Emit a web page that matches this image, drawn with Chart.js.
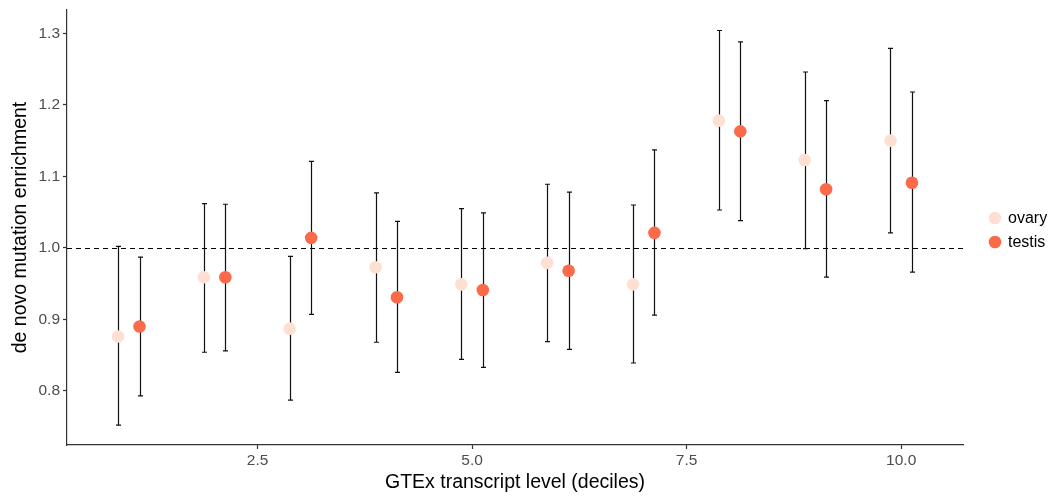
<!DOCTYPE html>
<html>
<head>
<meta charset="utf-8">
<script src="https://cdn.jsdelivr.net/npm/chart.js@4/dist/chart.umd.min.js"></script>
<style>
  html, body { margin: 0; padding: 0; background: #fff; }
  #wrap { width: 1049px; height: 496px; position: relative; }
</style>
</head>
<body>
<div id="wrap"><canvas id="c"></canvas></div>
<script>
// Expression deciles
const deciles = [1, 2, 3, 4, 5, 6, 7, 8, 9, 10];

// Ovary: enrichment estimate with lower / upper confidence limits
const ovaryValue = [0.876, 0.959, 0.887, 0.973, 0.949, 0.979, 0.949, 1.178, 1.123, 1.150];
const ovaryLower = [0.752, 0.854, 0.787, 0.868, 0.844, 0.869, 0.839, 1.053, 0.999, 1.021];
const ovaryUpper = [1.002, 1.062, 0.988, 1.077, 1.055, 1.089, 1.060, 1.304, 1.246, 1.279];

// Testis: enrichment estimate with lower / upper confidence limits
const testisValue = [0.890, 0.959, 1.014, 0.931, 0.941, 0.968, 1.021, 1.163, 1.082, 1.091];
const testisLower = [0.793, 0.856, 0.907, 0.826, 0.833, 0.858, 0.906, 1.038, 0.959, 0.966];
const testisUpper = [0.987, 1.061, 1.121, 1.037, 1.049, 1.078, 1.137, 1.288, 1.206, 1.218];

const xTicks = [2.5, 5.0, 7.5, 10.0];
const yTicks = [0.8, 0.9, 1.0, 1.1, 1.2, 1.3];
const seriesNames = ['ovary', 'testis'];
const seriesColors = ['#FEE0D2', '#FB6A4A'];

const DODGE = 0.125;
const FONT = '"Liberation Sans", Arial, Helvetica, sans-serif';

function buildPoints(values, lower, upper, shift) {
  return deciles.map((d, i) => ({ x: d + shift, y: values[i], lo: lower[i], hi: upper[i] }));
}

const datasets = [
  { label: seriesNames[0], data: buildPoints(ovaryValue, ovaryLower, ovaryUpper, -DODGE),
    backgroundColor: seriesColors[0], pointRadius: 6.3, pointBorderWidth: 0, pointHoverRadius: 6.3 },
  { label: seriesNames[1], data: buildPoints(testisValue, testisLower, testisUpper, DODGE),
    backgroundColor: seriesColors[1], pointRadius: 6.3, pointBorderWidth: 0, pointHoverRadius: 6.3 }
];

// Reference line at 1.0 and error bars, drawn beneath the points
const underlay = {
  id: 'underlay',
  beforeDatasetsDraw(chart) {
    const { ctx, chartArea, scales: { x, y } } = chart;
    ctx.save();
    const y1 = Math.round(y.getPixelForValue(1.0)) + 0.5;
    ctx.strokeStyle = '#000';
    ctx.lineWidth = 1.1;
    ctx.setLineDash([5, 4]);
    ctx.beginPath();
    ctx.moveTo(chartArea.left, y1);
    ctx.lineTo(chartArea.right, y1);
    ctx.stroke();
    ctx.setLineDash([]);

    ctx.strokeStyle = '#111';
    ctx.lineWidth = 1.2;
    chart.data.datasets.forEach(ds => {
      ds.data.forEach(p => {
        const px = Math.round(x.getPixelForValue(p.x)) + 0.5;
        const top = y.getPixelForValue(p.hi);
        const bot = y.getPixelForValue(p.lo);
        ctx.beginPath();
        ctx.moveTo(px, top); ctx.lineTo(px, bot);
        ctx.moveTo(px - 2.5, top); ctx.lineTo(px + 2.5, top);
        ctx.moveTo(px - 2.5, bot); ctx.lineTo(px + 2.5, bot);
        ctx.stroke();
      });
    });
    ctx.restore();
  }
};

// Legend placed to the right of the panel
const sideLegend = {
  id: 'sideLegend',
  afterDraw(chart) {
    const { ctx } = chart;
    ctx.save();
    ctx.font = '16px ' + FONT;
    ctx.textBaseline = 'middle';
    ctx.textAlign = 'left';
    seriesNames.forEach((name, i) => {
      const cy = 218 + i * 24;
      ctx.fillStyle = seriesColors[i];
      ctx.beginPath();
      ctx.arc(995, cy, 6.3, 0, Math.PI * 2);
      ctx.fill();
      ctx.fillStyle = '#000';
      ctx.fillText(name, 1008, cy + 1);
    });
    ctx.restore();
  }
};

new Chart(document.getElementById('c'), {
  type: 'scatter',
  data: { datasets },
  options: {
    responsive: true,
    maintainAspectRatio: false,
    animation: false,
    events: [],
    layout: { padding: { top: 10, right: 86, left: 0, bottom: 0 } },
    plugins: { legend: { display: false }, tooltip: { enabled: false } },
    scales: {
      x: {
        type: 'linear',
        min: 0.28,
        max: 10.72,
        afterBuildTicks: s => { s.ticks = xTicks.map(v => ({ value: v })); },
        afterFit: s => { s.height = 51; s.paddingLeft = 0; s.paddingRight = 0; },
        border: { display: true, color: '#333', width: 1.2 },
        grid: { display: true, drawOnChartArea: false, drawTicks: true, tickLength: 4, color: '#333', tickWidth: 1.2 },
        ticks: { color: '#4d4d4d', font: { family: FONT, size: 15.5 }, padding: 2,
                 callback: v => Number(v).toFixed(1) },
        title: { display: true, text: 'GTEx transcript level (deciles)', color: '#000',
                 font: { family: FONT, size: 19.5 }, padding: { top: 0, bottom: 2 } }
      },
      y: {
        type: 'linear',
        min: 0.7243,
        max: 1.3327,
        afterBuildTicks: s => { s.ticks = yTicks.map(v => ({ value: v })); },
        afterFit: s => { s.width = 67; s.paddingTop = 0; s.paddingBottom = 0; },
        border: { display: true, color: '#333', width: 1.2 },
        grid: { display: true, drawOnChartArea: false, drawTicks: true, tickLength: 4, color: '#333', tickWidth: 1.2 },
        ticks: { color: '#4d4d4d', font: { family: FONT, size: 15.5 }, padding: 3,
                 callback: v => Number(v).toFixed(1) },
        title: { display: true, text: 'de novo mutation enrichment', color: '#000',
                 font: { family: FONT, size: 19.5 }, padding: { top: 9, bottom: 0 } }
      }
    }
  },
  plugins: [underlay, sideLegend]
});
</script>
</body>
</html>
